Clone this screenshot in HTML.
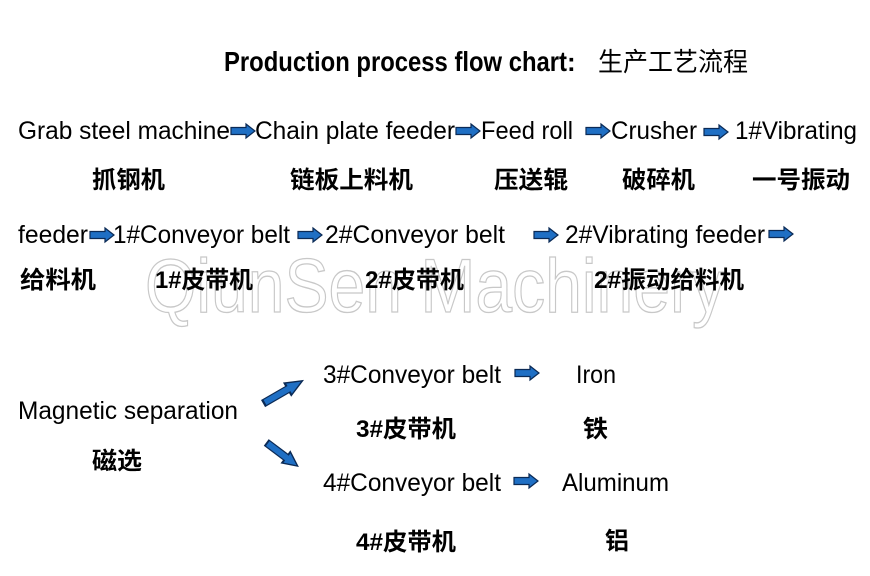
<!DOCTYPE html>
<html><head><meta charset="utf-8"><style>
html,body{margin:0;padding:0;background:#fff;}
svg{display:block;}
text{font-family:"Liberation Sans","Noto Sans CJK SC",sans-serif;fill:#000;}
.en{font-size:25px;}
.cn{font-size:24px;font-weight:bold;}
</style></head><body>
<svg width="870" height="576" viewBox="0 0 870 576" xmlns="http://www.w3.org/2000/svg">
<defs>
<g id="ar"><path d="M0,-3.5 L15,-3.5 L15,-7 L24,0 L15,7 L15,3.5 L0,3.5 Z" fill="#1f6fc4" stroke="#0b2a55" stroke-width="1.2"/></g>
</defs>
<text x="145" y="312" font-size="76" fill="none" stroke="#c8c8c8" stroke-width="1.3" textLength="580" lengthAdjust="spacingAndGlyphs" style="fill:none">QiunSen Machinery</text>

<text x="224" y="71" font-size="28" font-weight="bold" textLength="343" lengthAdjust="spacingAndGlyphs">Production process flow chart</text>
<text x="567" y="71" font-size="26" font-weight="bold">:</text>
<text x="598" y="71" font-size="26" textLength="150" lengthAdjust="spacingAndGlyphs">生产工艺流程</text>

<text class="en" x="18" y="139" textLength="212" lengthAdjust="spacingAndGlyphs">Grab steel machine</text>
<use href="#ar" x="231" y="131"/>
<text class="en" x="255" y="139" textLength="200" lengthAdjust="spacingAndGlyphs">Chain plate feeder</text>
<use href="#ar" x="456" y="131"/>
<text class="en" x="481" y="139" textLength="92" lengthAdjust="spacingAndGlyphs">Feed roll</text>
<use href="#ar" x="586" y="131"/>
<text class="en" x="611" y="139" textLength="86" lengthAdjust="spacingAndGlyphs">Crusher</text>
<use href="#ar" x="704" y="132"/>
<text class="en" x="735" y="139" textLength="122" lengthAdjust="spacingAndGlyphs">1#Vibrating</text>

<text class="cn" x="92" y="188" textLength="73" lengthAdjust="spacingAndGlyphs">抓钢机</text>
<text class="cn" x="290" y="188" textLength="123" lengthAdjust="spacingAndGlyphs">链板上料机</text>
<text class="cn" x="494" y="188" textLength="74" lengthAdjust="spacingAndGlyphs">压送辊</text>
<text class="cn" x="622" y="188" textLength="73" lengthAdjust="spacingAndGlyphs">破碎机</text>
<text class="cn" x="752" y="188" textLength="98" lengthAdjust="spacingAndGlyphs">一号振动</text>

<text class="en" x="18" y="243" textLength="70" lengthAdjust="spacingAndGlyphs">feeder</text>
<use href="#ar" x="90" y="235"/>
<text class="en" x="113" y="243" textLength="177" lengthAdjust="spacingAndGlyphs">1#Conveyor belt</text>
<use href="#ar" x="298" y="235"/>
<text class="en" x="325" y="243" textLength="180" lengthAdjust="spacingAndGlyphs">2#Conveyor belt</text>
<use href="#ar" x="534" y="235"/>
<text class="en" x="565" y="243" textLength="200" lengthAdjust="spacingAndGlyphs">2#Vibrating feeder</text>
<use href="#ar" x="769" y="234"/>

<text class="cn" x="20" y="288" textLength="76" lengthAdjust="spacingAndGlyphs">给料机</text>
<text class="cn" x="155" y="288" textLength="98" lengthAdjust="spacingAndGlyphs">1#皮带机</text>
<text class="cn" x="365" y="288" textLength="99" lengthAdjust="spacingAndGlyphs">2#皮带机</text>
<text class="cn" x="594" y="288" textLength="150" lengthAdjust="spacingAndGlyphs">2#振动给料机</text>

<text class="en" x="18" y="419" textLength="220" lengthAdjust="spacingAndGlyphs">Magnetic separation</text>
<text class="cn" x="92" y="469" textLength="50" lengthAdjust="spacingAndGlyphs">磁选</text>

<use href="#ar" transform="translate(264,403) rotate(-30) scale(1.85,1)"/>
<use href="#ar" transform="translate(267,443) rotate(37) scale(1.6,1)"/>

<text class="en" x="323" y="383" textLength="178" lengthAdjust="spacingAndGlyphs">3#Conveyor belt</text>
<use href="#ar" x="515" y="373"/>
<text class="en" x="576" y="383" textLength="40" lengthAdjust="spacingAndGlyphs">Iron</text>
<text class="cn" x="356" y="437" textLength="100" lengthAdjust="spacingAndGlyphs">3#皮带机</text>
<text class="cn" x="583" y="437" textLength="25" lengthAdjust="spacingAndGlyphs">铁</text>

<text class="en" x="323" y="491" textLength="178" lengthAdjust="spacingAndGlyphs">4#Conveyor belt</text>
<use href="#ar" x="514" y="481"/>
<text class="en" x="562" y="491" textLength="107" lengthAdjust="spacingAndGlyphs">Aluminum</text>
<text class="cn" x="356" y="550" textLength="100" lengthAdjust="spacingAndGlyphs">4#皮带机</text>
<text class="cn" x="605" y="549" textLength="24" lengthAdjust="spacingAndGlyphs">铝</text>
</svg>
</body></html>
